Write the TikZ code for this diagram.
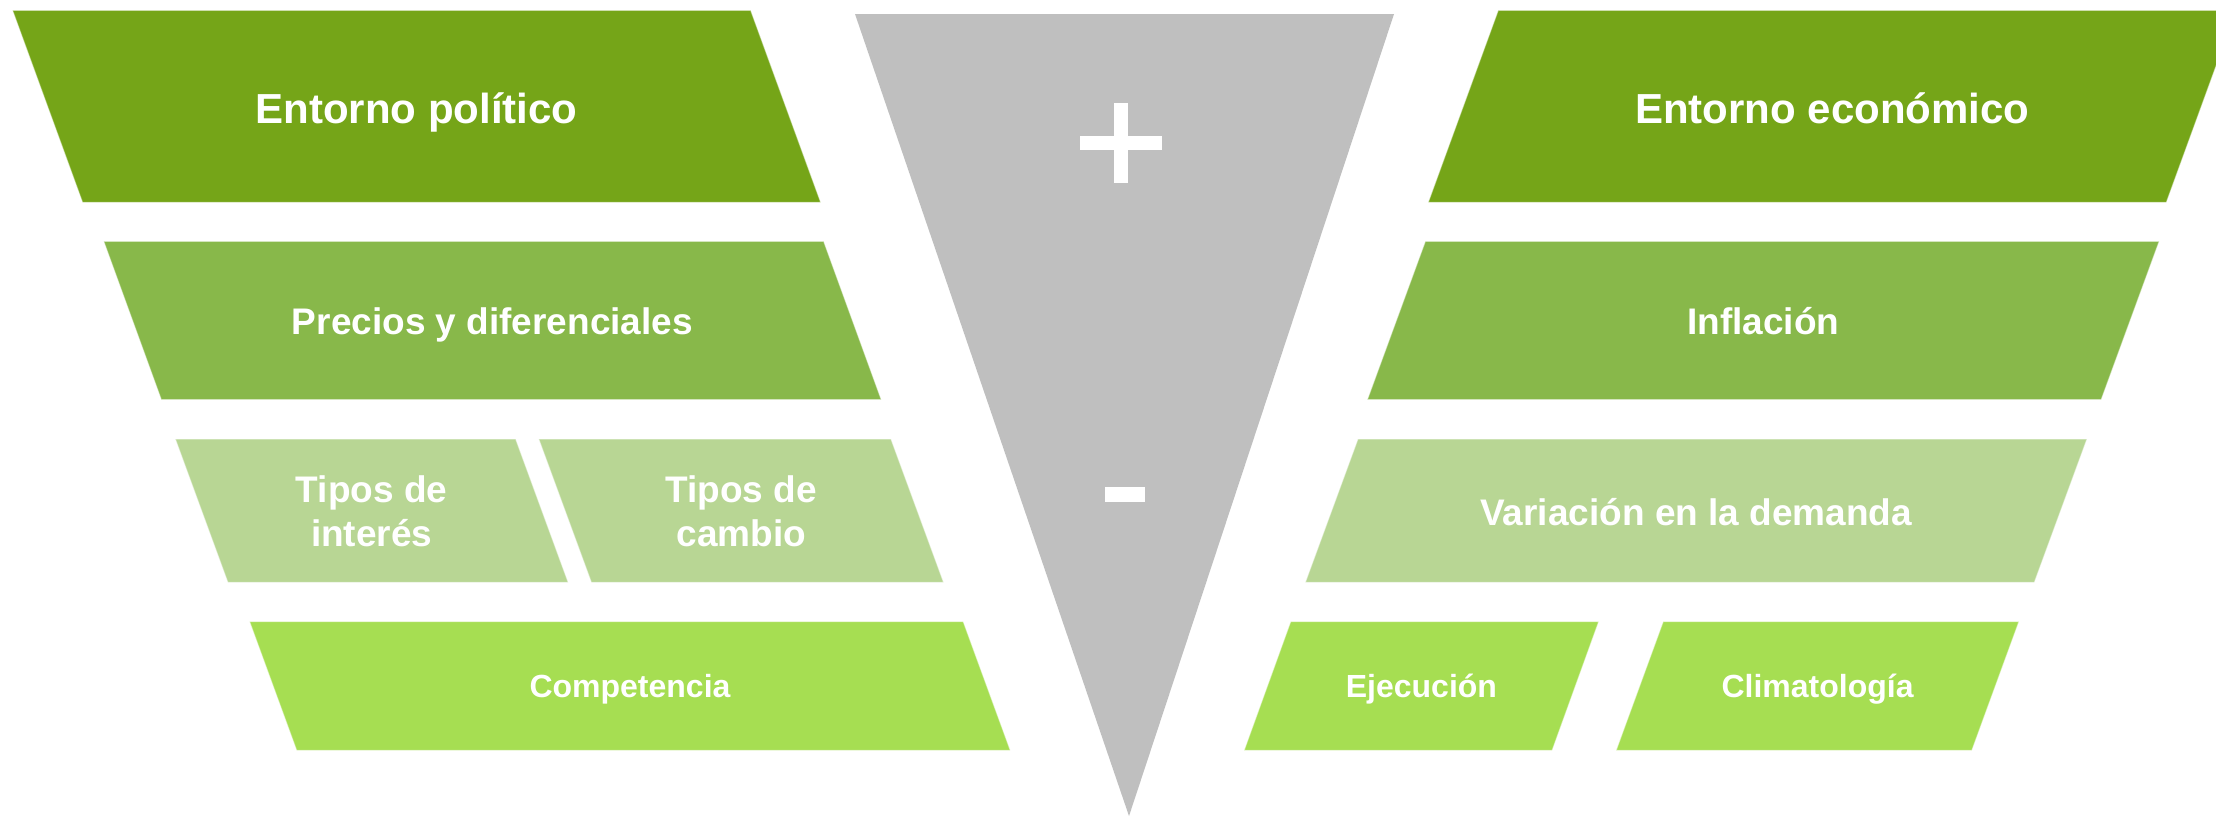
\documentclass[tikz,border=0pt]{standalone}
\usepackage{fontspec}
\setmainfont{Liberation Sans}
\definecolor{gDark}{RGB}{117,165,24}
\definecolor{gMid}{RGB}{136,184,74}
\definecolor{gLight}{RGB}{184,214,148}
\definecolor{gBright}{RGB}{166,222,82}
\definecolor{gGray}{RGB}{191,191,191}
\begin{document}
\begin{tikzpicture}[x=0.5pt,y=-0.5pt,
  pgbox/.style={draw=white, draw opacity=0.45, line width=0.5pt},
  lblbase/.style={text=white, inner sep=0pt, align=center},
  lblbig/.style={lblbase, font=\fontsize{21}{25}\selectfont\bfseries},
  lblmid/.style={lblbase, font=\fontsize{18.5}{22}\selectfont\bfseries},
  lblsmall/.style={lblbase, font=\fontsize{16}{19}\selectfont\bfseries},
  symbar/.style={fill=white, draw=none}]
\useasboundingbox (0,0) rectangle (2216,816);
\fill[white] (0,0) rectangle (2216,816);
\clip (0,0) rectangle (2216,816);

% central triangle with signs
\fill[gGray] (855,14) -- (1394,14) -- (1129,816) -- cycle;
\fill[symbar] (1080,136) rectangle (1162,150);
\fill[symbar] (1114,103) rectangle (1128,183);
\fill[symbar] (1105,487) rectangle (1145,502);

% left column
\filldraw[pgbox, fill=gDark] (12.6,10.3) -- (750.6,10.3) -- (820.6,202.3) -- (82.6,202.3) -- cycle;
\node[lblbig, anchor=base] (tA) at (416.6,123) {Entorno político};

\filldraw[pgbox, fill=gMid] (103.8,241.3) -- (823.6,241.3) -- (881.2,399.7) -- (161.4,399.7) -- cycle;
\node[lblmid, anchor=base] (tB) at (492.5,334.3) {Precios y diferenciales};

\filldraw[pgbox, fill=gLight] (175.4,439) -- (515.6,439) -- (568.1,582.3) -- (227.9,582.3) -- cycle;
\node[lblmid] (tC) at (371.7,511.2) {Tipos de\\interés};

\filldraw[pgbox, fill=gLight] (538.8,439) -- (890.9,439) -- (943.5,582.3) -- (591.4,582.3) -- cycle;
\node[lblmid] (tD) at (741.2,511.2) {Tipos de\\cambio};

\filldraw[pgbox, fill=gBright] (249.7,621.7) -- (963.2,621.7) -- (1010.2,750.3) -- (296.7,750.3) -- cycle;
\node[lblsmall, anchor=base] (tE) at (630,697.7) {Competencia};

% right column
\filldraw[pgbox, fill=gDark] (1498.3,10.3) -- (2236.3,10.3) -- (2166.3,202.3) -- (1428.3,202.3) -- cycle;
\node[lblbig, anchor=base] (tF) at (1832.3,123.3) {Entorno económico};

\filldraw[pgbox, fill=gMid] (1425.4,241.3) -- (2159.1,241.3) -- (2101.1,399.7) -- (1367.4,399.7) -- cycle;
\node[lblmid, anchor=base] (tG) at (1763.2,334.3) {Inflación};

\filldraw[pgbox, fill=gLight] (1358,439) -- (2086.9,439) -- (2034.3,582.3) -- (1305.4,582.3) -- cycle;
\node[lblmid, anchor=base] (tH) at (1696.2,525) {Variación en la demanda};

\filldraw[pgbox, fill=gBright] (1290.7,621.7) -- (1598.6,621.7) -- (1552.1,750.3) -- (1244.2,750.3) -- cycle;
\node[lblsmall, anchor=base] (tI) at (1421.4,697.7) {Ejecución};

\filldraw[pgbox, fill=gBright] (1663.2,621.7) -- (2018.8,621.7) -- (1971.8,750.3) -- (1616.2,750.3) -- cycle;
\node[lblsmall, anchor=base] (tJ) at (1817.5,697.7) {Climatología};
\end{tikzpicture}
\end{document}
